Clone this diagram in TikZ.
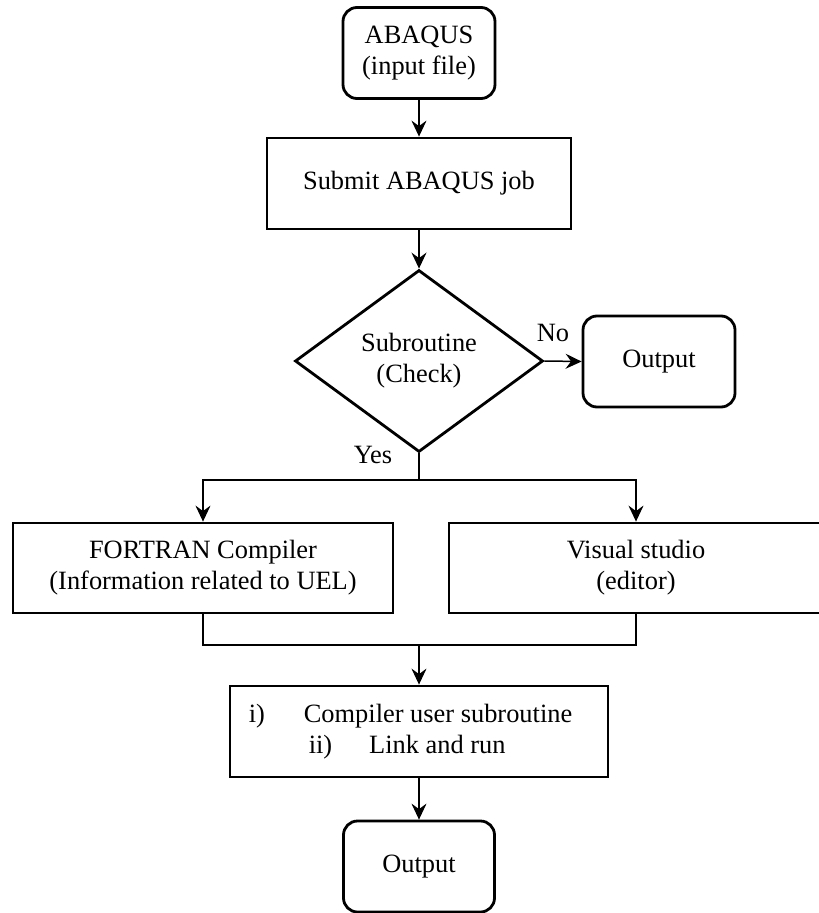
\documentclass[tikz,border=0pt]{standalone}
\usepackage{fontspec}
\setmainfont{Liberation Serif}
\usetikzlibrary{shapes.geometric,arrows.meta}
\begin{document}
\begin{tikzpicture}[x=1pt,y=-1pt,
  font=\fontsize{26.4}{31}\selectfont,
  boxst/.style={draw,line width=2.8pt,minimum width=#1,minimum height=91pt,inner sep=0pt,align=center},
  roundst/.style={boxst=#1,rounded corners=14pt},
  decst/.style={draw,shape=diamond,line width=2.8pt,minimum width=248pt,minimum height=182pt,inner sep=0pt,align=center},
  lbl/.style={inner sep=0pt},
  conn/.style={line width=1.5pt,-{Stealth[length=16pt,width=15pt,inset=5.5pt]}},
  plain/.style={line width=1.5pt}
]
\useasboundingbox (0,0) rectangle (819,913);
\node[roundst=152pt] (top) at (419,53) {ABAQUS\\(input file)};
\node[boxst=304pt] (submit) at (419,183.5) {Submit ABAQUS job};
\node[decst] (dec) at (419,361) {Subroutine\\(Check)};
\node[roundst=152pt] (out1) at (659,361.5) {Output};
\node[boxst=380pt,minimum height=90pt] (fort) at (203,568) {FORTRAN Compiler\\(Information related to UEL)};
\node[boxst=374pt,minimum height=90pt] (vis) at (636,568) {Visual studio\\(editor)};
\node[boxst=378pt,align=left] (comp) at (419,731.5) {i)\hspace{39pt}Compiler user subroutine\rule{17pt}{0pt}\\\hspace*{60pt}ii)\hspace{37pt}Link and run};
\node[roundst=151pt] (out2) at (419,866.5) {Output};
\node[lbl] (no) at (553,333) {No};
\node[lbl] (yes) at (373,455) {Yes};
\coordinate (split) at (419,480);
\coordinate (merge) at (419,645);
\draw[conn] (top) -- (submit);
\draw[conn] (submit) -- (dec);
\draw[conn] (dec.east) -- (out1.west);
\draw[plain] (dec.south) -- (split);
\draw[conn] (split) -| (fort.north);
\draw[conn] (split) -| (vis.north);
\draw[plain] (fort.south) |- (merge);
\draw[plain] (vis.south) |- (merge);
\draw[conn] (merge) -- (comp.north);
\draw[conn] (comp) -- (out2);
\end{tikzpicture}
\end{document}
